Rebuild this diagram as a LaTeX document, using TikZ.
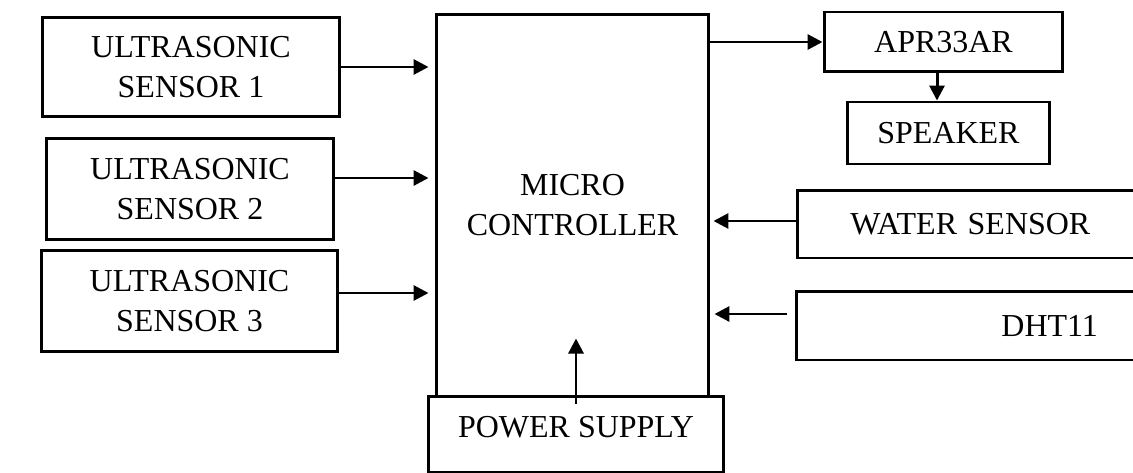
\documentclass[tikz,border=0pt]{standalone}
\usepackage{fontspec}
\setmainfont{Liberation Serif}
\usetikzlibrary{positioning}
\usetikzlibrary{arrows.meta}
\tikzset{blk/.style = {draw, line width=1.7pt, align=center, inner sep=0,
    font=\fontsize{18.2}{22.8}\selectfont}}
\tikzset{arr/.style = {line width=1.7pt, -{Triangle[length=0.3cm, width=0.3cm]}}}

\begin{document}
\begin{tikzpicture}[x=0.02cm, y=-0.02cm]
      \useasboundingbox (0,0) rectangle (1133,473);
      \node[blk, minimum width=5.96cm, minimum height=2.0cm] (us1) at (191,67) {ULTRASONIC\\SENSOR 1};
      \node[blk, minimum width=5.76cm, minimum height=2.04cm] (us2) at (190,189) {ULTRASONIC\\SENSOR 2};
      \node[blk, minimum width=5.94cm, minimum height=2.04cm] (us3) at (189.5,301) {ULTRASONIC\\SENSOR 3};
      \node[blk, minimum width=5.46cm, minimum height=7.66cm] (mc) at (572.5,205.5) {MICRO\\CONTROLLER};
      \node[blk, fill=white, minimum width=5.92cm, minimum height=1.52cm, text depth=0.3cm] (ps) at (576,434) {POWER SUPPLY};
      \node[blk, minimum width=4.78cm, minimum height=1.2cm] (apr) at (943.5,42) {APR33AR};
      \node[blk, minimum width=4.06cm, minimum height=1.24cm] (spk) at (948.5,133) {SPEAKER};
      \node[blk, anchor=west, align=left, inner xsep=1.06cm, text width=5.4cm, minimum height=1.36cm] (water) at (796,224) {WATER SENSOR};
      \node[blk, anchor=west, align=left, inner xsep=4.1cm, text width=3cm, minimum height=1.38cm] (dht) at (795,325.5) {DHT11};
      \draw[arr, shorten >=0.12cm] (us1.east) -- (us1.east -| mc.west);
      \draw[arr, shorten >=0.12cm] ([yshift=0.22cm]us2.east) -- ([yshift=0.22cm]us2.east -| mc.west);
      \draw[arr, shorten >=0.12cm] ([yshift=0.16cm]us3.east) -- ([yshift=0.16cm]us3.east -| mc.west);
      \draw[arr] (mc.east |- apr.west) -- (apr.west);
      \draw[arr] ([xshift=-0.13cm]apr.south) -- ([xshift=-0.13cm]apr.south |- spk.north);
      \draw[arr, shorten >=0.06cm] ([yshift=0.06cm]water.west) -- ([yshift=0.06cm]water.west -| mc.east);
      \draw[arr, shorten <=0.16cm, shorten >=0.08cm] ([yshift=0.23cm]dht.west) -- ([yshift=0.23cm]dht.west -| mc.east);
      \draw[arr] ([yshift=-0.18cm]ps.north) -- ([yshift=1.12cm]ps.north);
\end{tikzpicture}
\end{document}
